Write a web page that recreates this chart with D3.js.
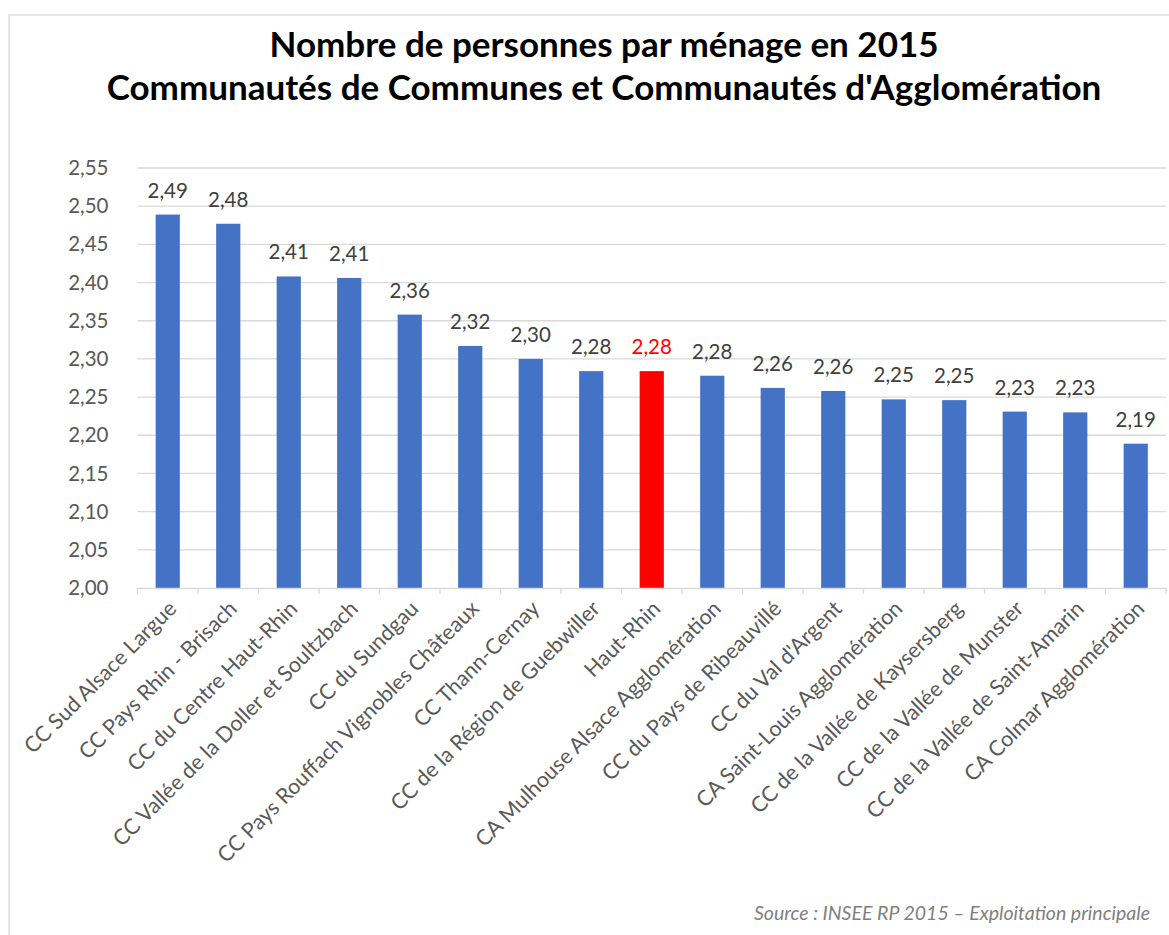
<!DOCTYPE html>
<html>
<head>
<meta charset="utf-8">
<script src="https://cdn.jsdelivr.net/npm/d3@7"></script>
<style>
  body { margin: 0; background: #fff; }
  text { font-family: Lato, "Open Sans", sans-serif; }
</style>
</head>
<body>
<script>
// data
const categories = [
  'CC Sud Alsace Largue', 'CC Pays Rhin - Brisach', 'CC du Centre Haut-Rhin',
  'CC Vallée de la Doller et Soultzbach', 'CC du Sundgau', 'CC Pays Rouffach Vignobles Châteaux',
  'CC Thann-Cernay', 'CC de la Région de Guebwiller', 'Haut-Rhin',
  'CA Mulhouse Alsace Agglomération', 'CC du Pays de Ribeauvillé', "CC du Val d'Argent",
  'CA Saint-Louis Agglomération', 'CC de la Vallée de Kaysersberg', 'CC de la Vallée de Munster',
  'CC de la Vallée de Saint-Amarin', 'CA Colmar Agglomération'
];
const values = [2.489, 2.477, 2.408, 2.406, 2.358, 2.317, 2.300, 2.284, 2.284,
                2.278, 2.262, 2.258, 2.247, 2.246, 2.231, 2.230, 2.189];
const highlight = 'Haut-Rhin';
const yTicks = [2.00, 2.05, 2.10, 2.15, 2.20, 2.25, 2.30, 2.35, 2.40, 2.45, 2.50, 2.55];
const titleLines = ['Nombre de personnes par ménage en 2015',
                    "Communautés de Communes et Communautés d'Agglomération"];
const source = 'Source : INSEE RP 2015 – Exploitation principale';

const W = 1169, H = 935;
const m = { left: 137.5, right: 1166, top: 168, bottom: 588 };
const fr = d3.format('.2f');
const fmt = v => fr(v).replace('.', ',');

const svg = d3.select('body').append('svg')
    .attr('width', W)
    .attr('height', H);

// chart frame
svg.append('rect')
    .attr('x', 9).attr('y', 15)
    .attr('width', W).attr('height', H)
    .attr('fill', '#fff')
    .attr('stroke', '#d9d9d9')
    .attr('stroke-width', 1.3);

const x = d3.scaleBand()
    .domain(categories)
    .range([m.left, m.right])
    .paddingInner(0.6)
    .paddingOuter(0.3);

const y = d3.scaleLinear()
    .domain([2.0, 2.55])
    .range([m.bottom, m.top]);

// gridlines
svg.append('g')
  .selectAll('line')
  .data(yTicks.slice(1))
  .join('line')
    .attr('x1', m.left).attr('x2', m.right)
    .attr('y1', d => y(d)).attr('y2', d => y(d))
    .attr('stroke', '#d9d9d9')
    .attr('stroke-width', 1.3);

// y axis labels
const yAxis = svg.append('g')
    .attr('transform', `translate(${m.left},0)`)
    .call(d3.axisLeft(y).tickValues(yTicks).tickFormat(fmt).tickSize(0).tickPadding(29));
yAxis.select('.domain').remove();
yAxis.selectAll('text')
    .attr('font-size', 20.5)
    .attr('fill', '#595959')
    .style('font-family', 'Lato, sans-serif');

// bars
svg.append('g')
  .selectAll('rect')
  .data(categories)
  .join('rect')
    .attr('x', d => x(d))
    .attr('width', x.bandwidth())
    .attr('y', (d, i) => y(values[i]))
    .attr('height', (d, i) => y(2.0) - y(values[i]))
    .attr('fill', d => d === highlight ? '#ff0000' : '#4472c4');

// value labels
svg.append('g')
  .selectAll('text')
  .data(categories)
  .join('text')
    .attr('x', d => x(d) + x.bandwidth() / 2)
    .attr('y', (d, i) => y(values[i]) - 17)
    .attr('text-anchor', 'middle')
    .attr('font-size', 20.5)
    .attr('fill', d => d === highlight ? '#ff0000' : '#404040')
    .text((d, i) => fmt(values[i]));

// x axis
const xAxis = svg.append('g')
    .attr('transform', `translate(0,${m.bottom})`)
    .call(d3.axisBottom(x).tickSize(0).tickFormat(''));
xAxis.select('.domain')
    .attr('stroke', '#d9d9d9')
    .attr('stroke-width', 1.3);
xAxis.selectAll('.tick').remove();

// category separators
const step = x.step();
svg.append('g')
  .selectAll('line')
  .data(d3.range(categories.length + 1))
  .join('line')
    .attr('x1', i => m.left + i * step).attr('x2', i => m.left + i * step)
    .attr('y1', m.bottom).attr('y2', m.bottom + 6)
    .attr('stroke', '#d9d9d9')
    .attr('stroke-width', 1.3);

// rotated category labels
svg.append('g')
  .selectAll('text')
  .data(categories)
  .join('text')
    .attr('transform', d => `translate(${x(d) + x.bandwidth() / 2 + 10},${m.bottom + 22}) rotate(-45)`)
    .attr('text-anchor', 'end')
    .attr('font-size', 21.5)
    .attr('fill', '#595959')
    .text(d => d);

// title
svg.append('g')
  .selectAll('text')
  .data(titleLines)
  .join('text')
    .attr('x', 604)
    .attr('y', (d, i) => 57 + i * 43)
    .attr('text-anchor', 'middle')
    .attr('font-size', 35)
    .attr('font-weight', 'bold')
    .attr('fill', '#000')
    .text(d => d);

// source
svg.append('text')
    .attr('x', 1150)
    .attr('y', 920)
    .attr('text-anchor', 'end')
    .attr('font-size', 19.5)
    .attr('font-style', 'italic')
    .attr('fill', '#7f7f7f')
    .text(source);
</script>
</body>
</html>
